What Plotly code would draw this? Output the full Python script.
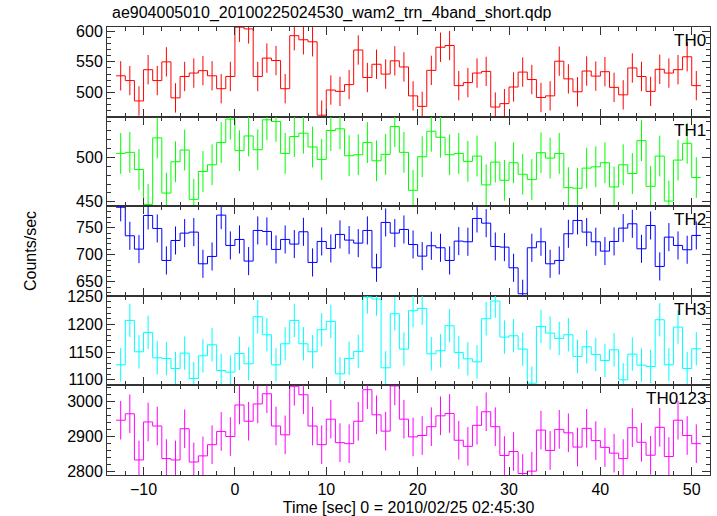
import plotly.graph_objects as go
from plotly.subplots import make_subplots

# ---- data (1-s bins, times relative to 2010/02/25 02:45:30) ----
time_start = -13.0
bin_width = 1.0
n_bins = 64

th0 = [527.2, 519.4, 486.1, 537.2, 519.4, 550.0, 491.1, 526.1, 531.7, 535.6, 527.2, 506.1, 526.1, 606.7, 603.9, 526.1,
       556.1, 552.2, 506.1, 592.8, 586.1, 582.8, 462.8, 503.9, 501.7, 512.8, 569.4, 524.4, 546.1, 530.0, 551.7, 541.7,
       494.4, 477.2, 536.1, 573.9, 576.7, 511.1, 516.1, 531.7, 534.4, 476.1, 481.7, 508.9, 533.3, 521.1, 491.7, 494.4,
       551.1, 522.2, 501.1, 535.0, 526.7, 533.9, 508.3, 496.1, 540.0, 526.1, 501.7, 537.8, 531.7, 537.2, 558.3, 511.1]
th1 = [504.5, 505.7, 486.4, 447.0, 522.0, 459.8, 495.1, 508.3, 452.7, 484.1, 491.7, 516.7, 543.2, 507.6, 524.2, 508.7,
       542.4, 540.5, 504.5, 523.5, 527.3, 511.7, 497.7, 530.3, 532.2, 501.9, 503.0, 516.7, 496.2, 503.4, 534.8, 505.7,
       462.9, 500.8, 529.5, 522.7, 503.0, 504.5, 495.5, 501.5, 469.0, 494.7, 474.2, 494.0, 481.0, 475.0, 505.3, 499.2,
       504.5, 465.9, 465.2, 487.9, 489.4, 494.0, 466.7, 491.7, 481.8, 518.9, 467.4, 501.5, 450.8, 497.0, 515.9, 477.3]
th2 = [788.0, 735.2, 710.5, 772.8, 748.8, 689.5, 726.5, 740.1, 742.0, 683.3, 696.9, 773.5, 717.3, 728.4, 688.3, 745.1,
       743.2, 709.9, 728.4, 719.8, 742.6, 685.8, 724.7, 711.7, 737.7, 727.2, 721.6, 745.1, 675.9, 759.9, 740.1, 746.9,
       719.1, 697.5, 716.7, 713.0, 689.5, 725.3, 724.1, 767.3, 758.6, 715.4, 714.2, 675.9, 627.8, 713.0, 724.1, 683.3,
       689.5, 738.9, 763.6, 742.0, 724.1, 706.8, 724.7, 749.4, 757.4, 711.1, 754.3, 678.4, 732.7, 717.3, 709.3, 735.8]
th3 = [1127.0, 1206.8, 1150.4, 1185.2, 1139.6, 1138.4, 1120.4, 1148.0, 1102.4, 1143.2, 1163.0, 1116.8, 1113.8, 1147.4,
       1128.8, 1213.4, 1181.0, 1127.0, 1164.8, 1206.8, 1164.8, 1150.4, 1190.0, 1205.0, 1110.8, 1138.4, 1151.0, 1248.8,
       1245.2, 1121.6, 1218.8, 1155.2, 1224.2, 1228.4, 1146.8, 1152.2, 1197.2, 1149.2, 1137.8, 1132.4, 1209.8, 1241.6,
       1176.8, 1179.2, 1155.2, 1094.0, 1196.0, 1184.0, 1174.4, 1181.0, 1142.0, 1159.4, 1145.6, 1134.8, 1154.0, 1100.0,
       1146.2, 1126.4, 1124.0, 1208.0, 1127.0, 1194.8, 1120.4, 1155.8]
th0123 = [2946.9, 2965.2, 2833.8, 2942.0, 2930.4, 2837.7, 2833.8, 2922.7, 2828.0, 2845.4, 2877.3, 2915.0, 2900.5, 2990.3,
          2944.0, 2993.2, 3022.2, 2930.4, 2905.3, 3043.5, 3019.3, 2930.4, 2877.3, 2949.8, 2883.1, 2880.2, 2944.0, 3033.8,
          2962.3, 2915.9, 3044.4, 2949.8, 2899.5, 2903.4, 2928.5, 2959.4, 2966.2, 2889.9, 2872.5, 2932.4, 2971.0, 2928.5,
          2846.4, 2857.9, 2795.2, 2802.0, 2918.8, 2860.9, 2920.8, 2911.1, 2870.5, 2923.7, 2888.9, 2869.6, 2853.1, 2837.7,
          2925.6, 2884.1, 2847.3, 2926.6, 2843.5, 2946.9, 2903.4, 2880.2]

errors = {"TH0": 24, "TH1": 23, "TH2": 26, "TH3": 30, "TH0123": 55}
panel_names = ["TH0", "TH1", "TH2", "TH3", "TH0123"]
series = [th0, th1, th2, th3, th0123]
colors = ["#ff0000", "#00ff00", "#0000ff", "#00ffff", "#ff00ff"]
y_ranges = [[460.5, 607], [445, 546], [624, 790], [1090, 1251], [2791, 3046]]
y_major = [50, 50, 50, 50, 100]
y_minor = [10, 10, 10, 10, 20]

title_text = "ae904005010_20100225024530_wam2_trn_4band_short.qdp"
x_title = "Time [sec] 0 = 2010/02/25 02:45:30"
y_title = "Counts/sec"

centers = [time_start + bin_width * (i + 0.5) for i in range(n_bins)]
edges = [time_start + bin_width * i for i in range(n_bins + 1)]

FONT = "Liberation Sans, Arial, Helvetica, sans-serif"
AX = "#333333"

W, H = 717, 516
ML, MR, MT, MB = 107, 7, 27, 41

fig = make_subplots(rows=5, cols=1, shared_xaxes=True, vertical_spacing=0)

for i, (name, vals, col) in enumerate(zip(panel_names, series, colors)):
    r = i + 1
    fig.add_trace(go.Scatter(x=centers, y=vals, mode="markers",
                             marker=dict(size=0.1, color=col),
                             error_y=dict(type="constant", value=errors[name], width=0,
                                          thickness=1, color=col),
                             showlegend=False, hoverinfo="skip"), row=r, col=1)
    fig.add_trace(go.Scatter(x=edges, y=vals + [vals[-1]], mode="lines",
                             line=dict(shape="hv", color=col, width=1),
                             showlegend=False), row=r, col=1)
    fig.update_yaxes(range=y_ranges[i], dtick=y_major[i], tick0=0,
                     minor=dict(dtick=y_minor[i], ticks="inside", ticklen=4, tickcolor=AX, showgrid=False),
                     row=r, col=1)
    fig.add_annotation(text=name, xref="paper", yref="y domain" if r == 1 else f"y{r} domain",
                       x=1, y=1, xanchor="right", yanchor="top", xshift=-2, yshift=-2,
                       showarrow=False, font=dict(family=FONT, size=17, color="black"))

fig.update_xaxes(range=[-14, 52], dtick=10, tick0=0, ticks="inside", ticklen=8, tickcolor=AX,
                 showline=True, linecolor=AX, linewidth=1, mirror="allticks", showgrid=False, zeroline=False,
                 minor=dict(dtick=2, ticks="inside", ticklen=4, tickcolor=AX, showgrid=False),
                 tickfont=dict(family=FONT, size=16, color="black"), automargin=False)
fig.update_yaxes(ticks="inside", ticklen=8, tickcolor=AX, showline=True, linecolor=AX, linewidth=1,
                 mirror="allticks", showgrid=False, zeroline=False, automargin=False,
                 tickfont=dict(family=FONT, size=16, color="black"))
fig.update_xaxes(title=dict(text=x_title, font=dict(family=FONT, size=16, color="black"), standoff=6),
                 row=5, col=1)

fig.add_annotation(text=y_title, xref="paper", yref="paper", x=-(ML - 30) / (W - ML - MR), y=0.5,
                   textangle=-90, xanchor="center", yanchor="middle", showarrow=False,
                   font=dict(family=FONT, size=16, color="black"))

fig.update_layout(width=W, height=H, margin=dict(l=ML, r=MR, t=MT, b=MB),
                  paper_bgcolor="white", plot_bgcolor="white",
                  title=dict(text=title_text, x=0, xref="paper", xanchor="left", y=1 - 12 / H,
                             yanchor="middle", pad=dict(l=5),
                             font=dict(family=FONT, size=16, color="black")))

# remove the default page margin so the figure sits at the window's top-left corner
fig.write_html("out.html", config={"displayModeBar": False},
               post_script="document.body.style.margin='0';")
